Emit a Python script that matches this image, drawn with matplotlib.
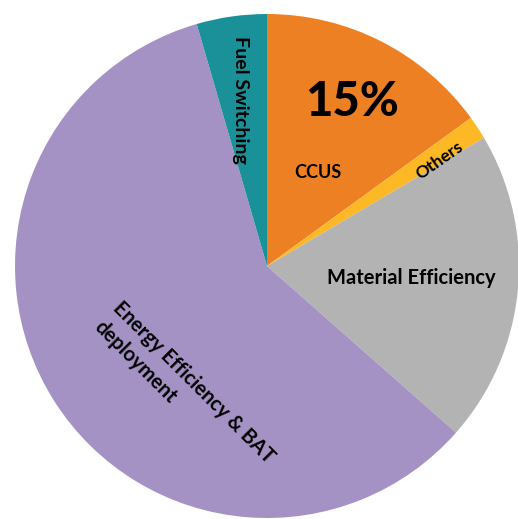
import matplotlib.pyplot as plt

# share of emission reductions by measure (clockwise from 12 o'clock)
labels = ['CCUS', 'Others', 'Material Efficiency',
          'Energy Efficiency & BAT\ndeployment', 'Fuel Switching']
shares = [15, 1.5, 20, 59, 4.5]
colors = ['#EE8024', '#FDB825', '#B3B3B3', '#A592C5', '#1A9199']

W, H = 518, 519
fig = plt.figure(figsize=(W / 100, H / 100), dpi=100)
ax = fig.add_axes([0, 0, 1, 1])

cx, cy, r = 267, H - 266, 252
ax.pie(shares, colors=colors, startangle=90, counterclock=False,
       center=(cx, cy), radius=r, frame=True,
       wedgeprops=dict(linewidth=0))
ax.set_xlim(0, W)
ax.set_ylim(0, H)
ax.set_aspect('equal')
ax.axis('off')

fam = ['Lato', 'DejaVu Sans']
# image pixel coords -> data coords (y flipped)
def put(x, y, s, **kw):
    ax.text(x, H - y, s, family=fam, ha='center', va='center', **kw)

put(352, 102, '15%', fontsize=34, fontweight='black')
put(318, 172, labels[0], fontsize=13, fontweight='bold')
put(439, 161, labels[1], fontsize=12.5, fontweight='bold', rotation=35)
put(411, 278, labels[2], fontsize=14.5, fontweight='bold')
put(184, 392, labels[3], fontsize=14.5, fontweight='bold', rotation=-45,
    multialignment='left', linespacing=1.45)
put(241, 100, labels[4], fontsize=14, fontweight='bold', rotation=-90)

fig.savefig('out.png', dpi=100)
